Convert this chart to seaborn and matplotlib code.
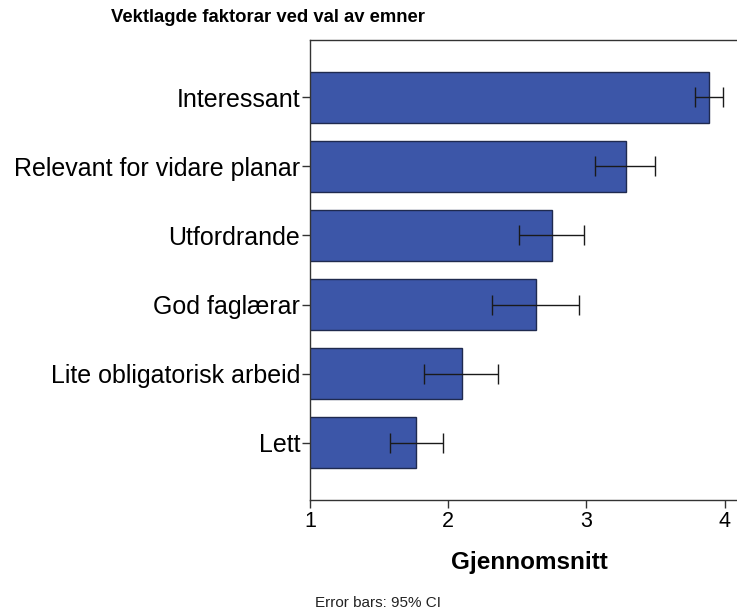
import numpy as np
import pandas as pd
import seaborn as sns
import matplotlib
matplotlib.use("Agg")
import matplotlib.pyplot as plt

categories = ["Interessant", "Relevant for vidare planar", "Utfordrande",
              "God faglærar", "Lite obligatorisk arbeid", "Lett"]
means = [3.89, 3.285, 2.75, 2.634, 2.10, 1.77]
ci_low = [3.786, 3.063, 2.511, 2.316, 1.827, 1.578]
ci_high = [3.989, 3.497, 2.981, 2.947, 2.364, 1.96]

df = pd.DataFrame({"faktor": categories, "mean": means})

sns.set_theme(style="white")
plt.rcParams["font.family"] = ["Liberation Sans", "DejaVu Sans"]
plt.rcParams["text.color"] = "black"

fig = plt.figure(figsize=(7.37, 6.14), dpi=100)
ax = fig.add_axes([310 / 737, 1 - 500 / 614, 1 - 310 / 737, 460 / 614])

sns.barplot(data=df, x="mean", y="faktor", orient="h", color="#3C56A8",
            width=0.75, edgecolor="#1f2a4f", linewidth=1.0, saturation=1,
            errorbar=None, ax=ax)

# 95% CI error bars
err = [np.array(means) - np.array(ci_low), np.array(ci_high) - np.array(means)]
ax.errorbar(means, np.arange(len(categories)), xerr=err, fmt="none",
            ecolor="#1a1a1a", elinewidth=1.0, capsize=7, capthick=1.0)

ax.set_xlim(1, 4.09)
ax.set_ylim(len(categories) - 1 + 0.833, -0.833)
ax.set_xticks([1, 2, 3, 4])
ax.set_xlabel("")
ax.set_ylabel("")
ax.tick_params(axis="both", which="both", direction="out", length=6, width=1,
               color="#333333", labelcolor="black", pad=1,
               left=True, bottom=True)
ax.tick_params(axis="y", labelsize=18)
ax.tick_params(axis="x", labelsize=15.5, pad=2)
for side in ["left", "bottom", "top"]:
    ax.spines[side].set_visible(True)
    ax.spines[side].set_color("#333333")
    ax.spines[side].set_linewidth(1.0)
ax.spines["right"].set_visible(False)

fig.text(268 / 737, 1 - 17 / 614, "Vektlagde faktorar ved val av emner",
         ha="center", va="center", fontsize=13.3, fontweight="bold")
fig.text(529 / 737, 1 - 563 / 614, "Gjennomsnitt", ha="center", va="center",
         fontsize=17.5, fontweight="bold")
fig.text(315 / 737, 1 - 603 / 614, "Error bars: 95% CI", ha="left",
         va="center", fontsize=11, color="#222222")

fig.savefig("out.png", dpi=100)
